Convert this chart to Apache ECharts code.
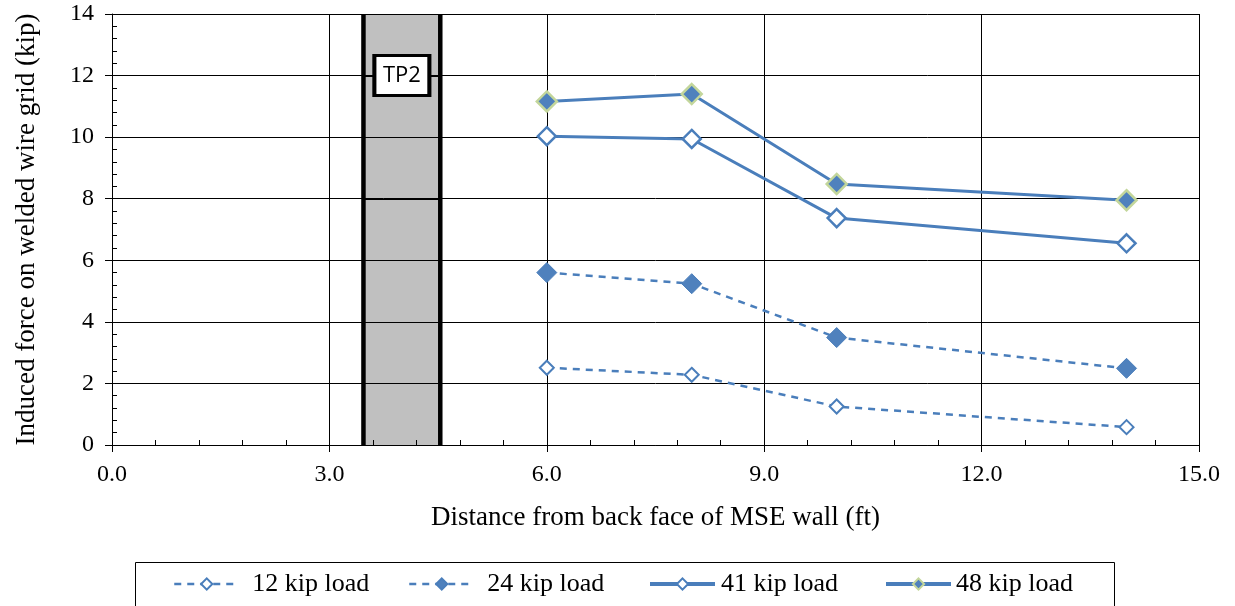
<!DOCTYPE html>
<html>
<head>
<meta charset="utf-8">
<script src="https://cdn.jsdelivr.net/npm/echarts@6/dist/echarts.min.js"></script>
<style>
html,body{margin:0;padding:0;background:#fff;}
#chart{width:1235px;height:606px;}
</style>
</head>
<body>
<div id="chart"></div>
<script>
// ---- data ----
const distances = [6, 8, 10, 14];
const load12 = [2.51, 2.28, 1.25, 0.58];
const load24 = [5.60, 5.24, 3.49, 2.49];
const load41 = [10.03, 9.94, 7.37, 6.55];
const load48 = [11.16, 11.40, 8.48, 7.95];
const seriesNames = ['12 kip load', '24 kip load', '41 kip load', '48 kip load'];
const bandRange = [3.47, 4.53];       // TP2 zone (ft)
const tp2Label = 'TP2';
const tp2Pos = [4.0, 12];
const xTicks = [0, 3, 6, 9, 12, 15];
const yTicks = [0, 2, 4, 6, 8, 10, 12, 14];

const BLUE = '#4a7ebb';
const FILL = '#4f81bd';
const SERIF = '"Liberation Serif", "Times New Roman", serif';
const Y_MIN = yTicks[0], Y_MAX = yTicks[yTicks.length - 1];

function pairs(ys) { return distances.map((x, i) => [x, ys[i]]); }

const chart = echarts.init(document.getElementById('chart'), null, {renderer: 'canvas'});

const legendLefts = [173, 408, 648, 884];
const legendPads = [8, 8, 1, 0];
const legendLineW = [2.5, 2.5, 4, 4];

function renderBand(params, api) {
  const x0 = api.value(0), x1 = api.value(1);
  const tl = api.coord([x0, Y_MAX]);
  const br = api.coord([x1, Y_MIN]);
  const children = [
    {type: 'rect', shape: {x: tl[0], y: tl[1], width: br[0] - tl[0], height: br[1] - tl[1]},
     style: {fill: '#c0c0c0'}}
  ];
  // horizontal gridlines visible through the band
  yTicks.forEach(v => {
    const y = Math.round(api.coord([x0, v])[1]) + 0.5;
    children.push({type: 'line', shape: {x1: tl[0], y1: y, x2: br[0], y2: y},
      style: {stroke: '#000', lineWidth: 1}});
  });
  children.push(
    {type: 'line', shape: {x1: tl[0], y1: tl[1], x2: tl[0], y2: br[1]},
     style: {stroke: '#000', lineWidth: 4.5}},
    {type: 'line', shape: {x1: br[0], y1: tl[1], x2: br[0], y2: br[1]},
     style: {stroke: '#000', lineWidth: 4.5}}
  );
  return {type: 'group', children};
}

const option = {
  animation: false,
  backgroundColor: '#fff',
  grid: {left: 112, right: 36, top: 14, bottom: 161, containLabel: false},
  xAxis: [{
    type: 'value', min: xTicks[0], max: xTicks[xTicks.length - 1], interval: 3,
    position: 'bottom', z: 2,
    name: 'Distance from back face of MSE wall (ft)',
    nameLocation: 'middle', nameGap: 59,
    nameTextStyle: {fontFamily: SERIF, fontSize: 27, color: '#000'},
    axisLine: {show: true, onZero: false, lineStyle: {color: '#000', width: 1}},
    axisTick: {show: true, inside: false, length: 7, lineStyle: {color: '#000'}},
    axisLabel: {margin: 18, fontFamily: SERIF, fontSize: 24, color: '#000',
      formatter: v => v.toFixed(1)},
    splitLine: {show: true, lineStyle: {color: '#000', width: 1}}
  }, {
    type: 'value', min: 0, max: 15, interval: 0.6, position: 'bottom', z: 2,
    axisLine: {show: false}, axisLabel: {show: false}, splitLine: {show: false},
    axisTick: {show: true, inside: true, length: 5, lineStyle: {color: '#000'}}
  }],
  yAxis: [{
    type: 'value', min: Y_MIN, max: Y_MAX, interval: 2,
    position: 'left', z: 2,
    name: 'Induced force on welded wire grid (kip)',
    nameLocation: 'middle', nameGap: 72, nameRotate: 90,
    nameTextStyle: {fontFamily: SERIF, fontSize: 27, color: '#000'},
    axisLine: {show: true, onZero: false, lineStyle: {color: '#000', width: 1}},
    axisTick: {show: true, inside: false, length: 7, lineStyle: {color: '#000'}},
    axisLabel: {margin: 18, fontFamily: SERIF, fontSize: 24, color: '#000'},
    splitLine: {show: true, lineStyle: {color: '#000', width: 1}}
  }, {
    type: 'value', min: 0, max: 14, interval: 0.4, position: 'left', z: 2,
    axisLine: {show: false}, axisLabel: {show: false}, splitLine: {show: false},
    axisTick: {show: true, inside: true, length: 5, lineStyle: {color: '#000'}}
  }],
  legend: seriesNames.map((n, i) => ({
    data: [n], left: legendLefts[i], top: 571, padding: 0,
    itemWidth: 65, itemHeight: 14, selectedMode: false,
    lineStyle: {width: legendLineW[i]},
    textStyle: {fontFamily: SERIF, fontSize: 26, color: '#000', lineHeight: 26,
      padding: [0, 0, 0, legendPads[i]]}
  })),
  graphic: [{
    type: 'rect', left: 133, top: 560, silent: true,
    shape: {width: 979, height: 60},
    style: {fill: 'none', stroke: '#000', lineWidth: 1}
  }],
  series: [
    {
      name: 'band', type: 'custom', z: 1, silent: true,
      data: [bandRange], renderItem: renderBand, clip: false
    },
    {
      name: seriesNames[0], type: 'line', data: pairs(load12), z: 3,
      lineStyle: {color: BLUE, width: 2.5, type: [7, 6]},
      symbol: 'diamond', symbolSize: 14,
      itemStyle: {color: '#fff', borderColor: BLUE, borderWidth: 2}
    },
    {
      name: seriesNames[1], type: 'line', data: pairs(load24), z: 3,
      lineStyle: {color: BLUE, width: 2.5, type: [7, 6]},
      symbol: 'diamond', symbolSize: 20,
      itemStyle: {color: FILL, borderColor: BLUE, borderWidth: 1}
    },
    {
      name: seriesNames[2], type: 'line', data: pairs(load41), z: 3,
      lineStyle: {color: BLUE, width: 3},
      symbol: 'diamond', symbolSize: 18,
      itemStyle: {color: '#fff', borderColor: BLUE, borderWidth: 2.5}
    },
    {
      name: seriesNames[3], type: 'line', data: pairs(load48), z: 3,
      lineStyle: {color: BLUE, width: 3},
      symbol: 'diamond', symbolSize: 20,
      itemStyle: {color: FILL, borderColor: '#c3d69b', borderWidth: 2.5}
    },
    {
      name: 'tp2', type: 'scatter', data: [tp2Pos], z: 10, silent: true,
      symbol: 'rect', symbolSize: [55, 40],
      itemStyle: {color: '#fff', opacity: 1, borderColor: '#000', borderWidth: 3.5},
      label: {show: true, position: 'inside', formatter: tp2Label,
        fontFamily: '"Open Sans", sans-serif', fontSize: 22, color: '#000'}
    }
  ]
};
chart.setOption(option);
</script>
</body>
</html>
